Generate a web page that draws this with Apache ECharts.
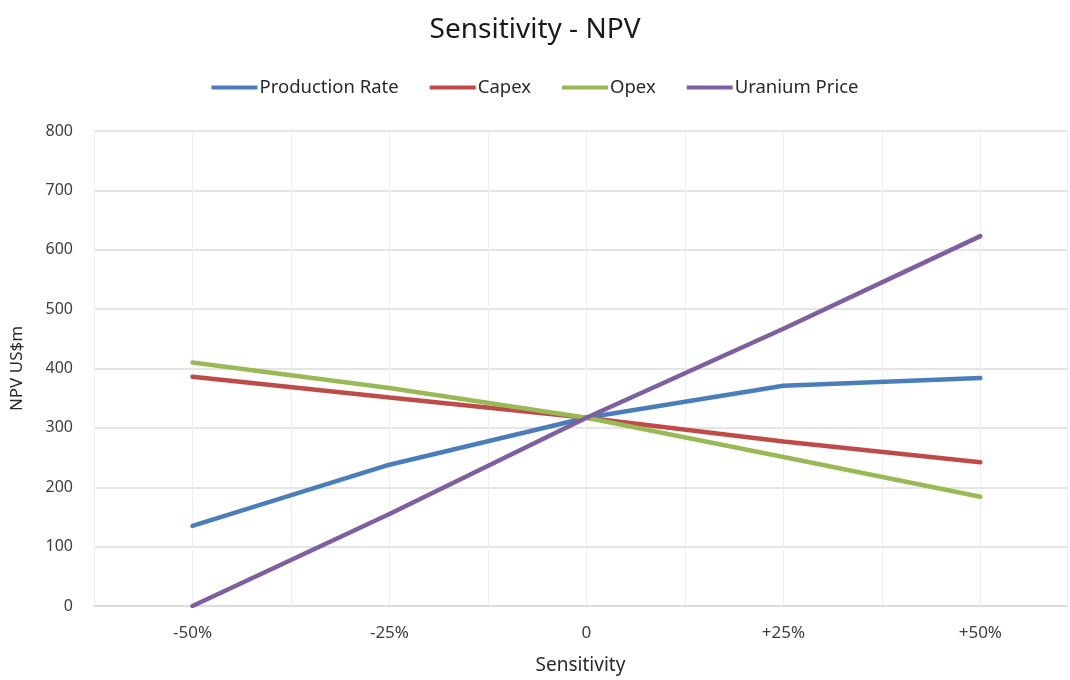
<!DOCTYPE html>
<html>
<head>
<meta charset="utf-8">
<script src="https://cdn.jsdelivr.net/npm/echarts@6/dist/echarts.min.js"></script>
<style>
  html, body { margin: 0; padding: 0; background: #fff; }
  #chart-container { width: 1070px; height: 680px; }
</style>
</head>
<body>
<div id="chart-container"></div>
<script>
var dom = document.getElementById("chart-container");
var myChart = echarts.init(dom, null, { renderer: "canvas" });

// sensitivity steps (%) and their tick labels
var sensitivity = [-50, -25, 0, 25, 50];
var tickLabels = ["-50%", "-25%", "0", "+25%", "+50%"];

// NPV US$m per series
var productionRate = [135, 238, 317, 371, 384];
var capex = [386, 351, 317, 277, 242];
var opex = [410, 367, 317, 251, 184];
var uraniumPrice = [0, 155, 317, 467, 623];

var names = ["Production Rate", "Capex", "Opex", "Uranium Price"];
var colors = ["#4a7ebb", "#be4b48", "#98b954", "#7d60a0"];
var values = [productionRate, capex, opex, uraniumPrice];

function pairs(arr) {
  return sensitivity.map(function (x, i) { return [x, arr[i]]; });
}

var font = "Noto Sans";

var option = {
  backgroundColor: "#fff",
  title: {
    text: "Sensitivity - NPV",
    left: "center",
    top: 11,
    textStyle: { fontFamily: font, fontSize: 28, fontWeight: "normal", color: "#1a1a1a" },
  },
  legend: {
    top: 73,
    left: "center",
    itemWidth: 46,
    itemHeight: 4,
    itemGap: 31,
    icon: "rect",
    textStyle: { fontFamily: font, fontSize: 18.5, color: "#2a2a2a", padding: [0, 0, 0, -3] },
    data: names,
  },
  grid: { left: 94, right: 0, top: 131, bottom: 73, containLabel: false },
  xAxis: {
    type: "value",
    min: -62.5,
    max: 61,
    interval: 12.5,
    name: "Sensitivity",
    nameLocation: "middle",
    nameGap: 50,
    nameTextStyle: { fontFamily: font, fontSize: 19, color: "#2a2a2a" },
    axisLine: { show: true, lineStyle: { color: "#d9d9d9", width: 1.5 } },
    axisTick: { show: false },
    axisLabel: {
      margin: 19,
      fontFamily: font,
      fontSize: 17,
      color: "#404040",
      formatter: function (v) {
        var i = sensitivity.indexOf(v);
        return i >= 0 ? tickLabels[i] : "";
      },
    },
    splitLine: { show: true, lineStyle: { color: "#eeeeee", width: 1 } },
  },
  yAxis: {
    type: "value",
    min: 0,
    max: 800,
    interval: 100,
    name: "NPV US$m",
    nameLocation: "middle",
    nameGap: 68,
    nameTextStyle: { fontFamily: font, fontSize: 17, color: "#2a2a2a" },
    axisLine: { show: false },
    axisTick: { show: false },
    axisLabel: { margin: 21, fontFamily: font, fontSize: 16, color: "#404040" },
    splitLine: { show: true, lineStyle: { color: "#dddddd", width: 1.5 } },
  },
  series: names.map(function (n, i) {
    return {
      name: n,
      type: "line",
      data: pairs(values[i]),
      showSymbol: false,
      symbol: "none",
      color: colors[i],
      lineStyle: { width: 4.5, color: colors[i], cap: "round" },
      animation: false,
    };
  }),
};

myChart.setOption(option);

window.addEventListener("resize", function () {
  myChart.resize();
});
</script>
</body>
</html>
